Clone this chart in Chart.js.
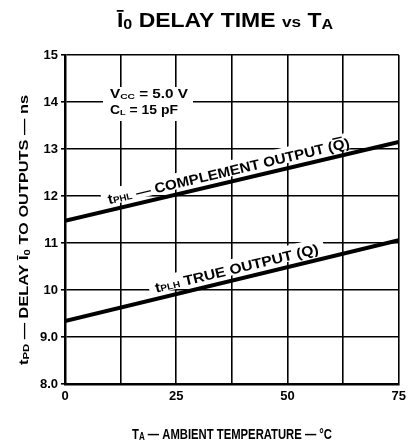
<!DOCTYPE html>
<html>
<head>
<meta charset="utf-8">
<script src="https://cdn.jsdelivr.net/npm/chart.js@4.4.1/dist/chart.umd.min.js"></script>
<style>
  html, body { margin: 0; padding: 0; background: #fff; }
  canvas { display: block; }
</style>
</head>
<body>
<canvas id="delayChart" width="411" height="444"></canvas>
<script>
// values
var temps = [0, 75];                 // TA, degC
var tphl = [11.47, 13.15];           // complement output, ns
var tplh = [9.34, 11.06];            // true output, ns
var xTickLabels = [0, 25, 50, 75];
var yTickLabels = { 8: '8.0', 9: '9.0', 10: '10', 11: '11', 12: '12', 13: '13', 14: '14', 15: '15' };

var FONT = '"Liberation Sans", Arial, sans-serif';

// draw a run of text pieces (for subscripts / overbars), optionally stretched to a width
function drawRuns(ctx, parts, x, y, target) {
  var w = 0;
  parts.forEach(function (p) {
    ctx.font = 'bold ' + p.s + 'px ' + FONT;
    p.w = ctx.measureText(p.t).width;
    w += p.w;
  });
  var k = target ? target / w : 1;
  ctx.save();
  ctx.translate(x, y);
  ctx.scale(k, 1);
  var cx = 0;
  parts.forEach(function (p) {
    ctx.font = 'bold ' + p.s + 'px ' + FONT;
    ctx.fillText(p.t, cx, p.dy || 0);
    if (p.bar) ctx.fillRect(cx + 1, (p.dy || 0) - p.s * 0.9, p.w - 2, 1.4);
    cx += p.w;
  });
  ctx.restore();
  return w * k;
}

// label that sits on top of a curve, rotated with it, on a white patch
function curveLabel(chart, dsIndex, startX, parts, len, lift) {
  var ctx = chart.ctx;
  var pts = chart.getDatasetMeta(dsIndex).data;
  var p0 = pts[0], p1 = pts[pts.length - 1];
  var ang = Math.atan2(p1.y - p0.y, p1.x - p0.x);
  var px = chart.scales.x.getPixelForValue(startX);
  var t = (px - p0.x) / (p1.x - p0.x);
  var py = p0.y + t * (p1.y - p0.y);
  ctx.save();
  ctx.translate(px, py);
  ctx.rotate(ang);
  ctx.translate(0, -lift);
  ctx.fillStyle = '#fff';
  ctx.fillRect(-6, -15, len + 12, 16);
  ctx.fillStyle = '#000';
  ctx.textBaseline = 'alphabetic';
  drawRuns(ctx, parts, 0, 0, len);
  ctx.restore();
}

var textPlugin = {
  id: 'datasheetText',
  beforeDatasetsDraw: function (chart) {
    var ctx = chart.ctx;
    // test conditions box
    ctx.save();
    ctx.fillStyle = '#fff';
    ctx.fillRect(103, 87, 90, 34);
    ctx.fillStyle = '#000';
    drawRuns(ctx, [{ t: 'V', s: 12 }, { t: 'CC', s: 8, dy: 1 }, { t: ' = 5.0 V', s: 12 }], 110, 98, 78);
    drawRuns(ctx, [{ t: 'C', s: 12 }, { t: 'L', s: 8, dy: 1 }, { t: ' = 15 pF', s: 12 }], 110, 114, 68);
    ctx.restore();

    curveLabel(chart, 0, 10.2,
      [{ t: 't', s: 14 }, { t: 'PHL', s: 9 }, { t: ' \u2014 COMPLEMENT OUTPUT (', s: 14 },
       { t: 'Q', s: 14, bar: true }, { t: ')', s: 14 }],
      248, 6);
    curveLabel(chart, 1, 20.8,
      [{ t: 't', s: 14 }, { t: 'PLH', s: 9 }, { t: ' TRUE OUTPUT (Q)', s: 14 }],
      168, 6);
  },
  afterDraw: function (chart) {
    var ctx = chart.ctx;
    ctx.save();
    ctx.fillStyle = '#000';
    ctx.textBaseline = 'alphabetic';
    // title
    drawRuns(ctx, [
      { t: '\u012A', s: 20 }, { t: '0', s: 14, dy: 2 },
      { t: ' DELAY TIME ', s: 20 }, { t: 'vs', s: 15 },
      { t: ' T', s: 20 }, { t: 'A', s: 14, dy: 2 }
    ], 117, 27, 216);
    // x axis title
    var xParts = [{ t: 'T', s: 14 }, { t: 'A', s: 10, dy: 1 }, { t: ' \u2014 AMBIENT TEMPERATURE \u2014 \u00B0C', s: 14 }];
    drawRuns(ctx, xParts, 232 - 100, 439, 200);
    // y axis title
    ctx.translate(28, 230);
    ctx.rotate(-Math.PI / 2);
    drawRuns(ctx, [
      { t: 't', s: 13 }, { t: 'PD', s: 9, dy: 1 }, { t: ' \u2014 DELAY ', s: 13 },
      { t: '\u012A', s: 13 }, { t: '0', s: 9, dy: 2 }, { t: ' TO OUTPUTS \u2014 ns', s: 13 }
    ], -135, 0, 270);
    ctx.restore();
  }
};

var cfg = {
  type: 'line',
  data: {
    datasets: [
      {
        label: 'tPHL',
        data: temps.map(function (t, i) { return { x: t, y: tphl[i] }; }),
        borderColor: '#000',
        borderWidth: 4,
        pointRadius: 0,
        fill: false
      },
      {
        label: 'tPLH',
        data: temps.map(function (t, i) { return { x: t, y: tplh[i] }; }),
        borderColor: '#000',
        borderWidth: 4,
        pointRadius: 0,
        fill: false
      }
    ]
  },
  options: {
    responsive: false,
    animation: false,
    devicePixelRatio: 1,
    layout: { padding: { top: 55, right: 11, bottom: 0, left: 0 } },
    plugins: {
      legend: { display: false },
      tooltip: { enabled: false },
      title: { display: false }
    },
    scales: {
      x: {
        type: 'linear',
        min: 0,
        max: 75,
        afterFit: function (s) { s.height = 60; },
        afterBuildTicks: function (s) {
          var t = [];
          for (var v = 0; v <= 75; v += 12.5) t.push({ value: v });
          s.ticks = t;
        },
        ticks: {
          autoSkip: false,
          maxRotation: 0,
          padding: 5,
          color: '#000',
          font: { family: FONT, size: 13, weight: 'bold' },
          callback: function (v) { return xTickLabels.indexOf(v) >= 0 ? String(v) : ''; }
        },
        grid: { color: '#000', lineWidth: 1.6, drawTicks: false },
        border: { color: '#000', width: 2.5 }
      },
      y: {
        min: 8,
        max: 15,
        afterFit: function (s) { s.width = 65; },
        ticks: {
          stepSize: 1,
          padding: 3,
          color: '#000',
          font: { family: FONT, size: 13, weight: 'bold' },
          callback: function (v) { return yTickLabels[v] || ''; }
        },
        grid: { color: '#000', lineWidth: 1.6, tickLength: 4 },
        border: { color: '#000', width: 2.5 }
      }
    }
  },
  plugins: [textPlugin]
};

var ctx = document.getElementById('delayChart').getContext('2d');
new Chart(ctx, cfg);
</script>
</body>
</html>
